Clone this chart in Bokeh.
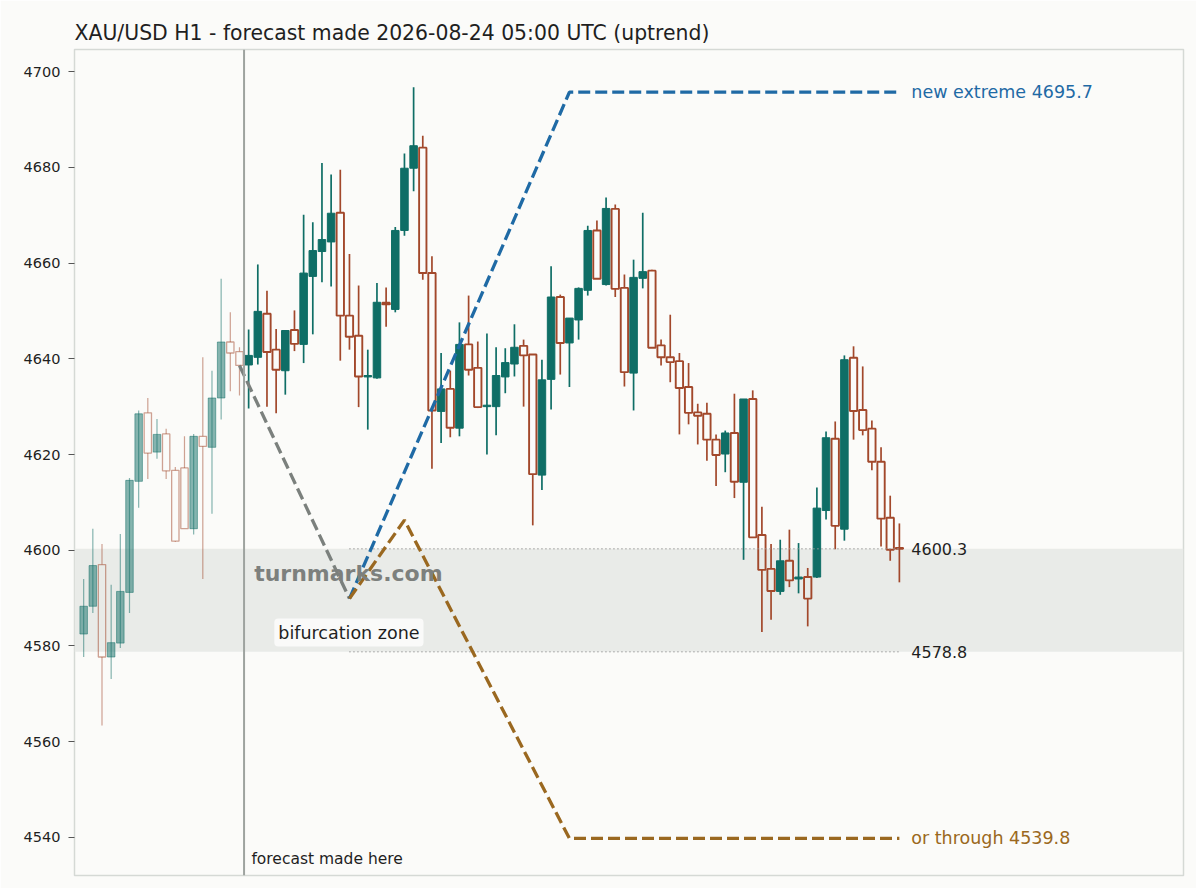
from bokeh.plotting import figure
from bokeh.models import ColumnDataSource, Range1d, FixedTicker, Span, BoxAnnotation, Label, Title
from bokeh.embed import file_html
from bokeh.resources import INLINE

# ---------------- data ----------------
title_text = "XAU/USD H1 - forecast made 2026-08-24 05:00 UTC (uptrend)"

opens = [4582.5, 4588.3, 4597.0, 4577.7, 4580.6, 4591.2, 4614.4, 4628.7, 4620.5, 4624.3,
         4616.7, 4617.2, 4604.5, 4623.8, 4621.5, 4631.8, 4643.5, 4641.5, 4638.7, 4640.3,
         4649.4, 4641.9, 4637.5, 4646.0, 4643.0, 4657.2, 4662.4, 4664.4, 4670.5, 4649.0,
         4644.8, 4636.2, 4636.0, 4651.7, 4650.3, 4666.8, 4679.8, 4684.1, 4657.9, 4629.0,
         4633.7, 4625.5, 4643.0, 4638.1, 4630.0, 4630.0, 4636.2, 4638.9, 4642.7, 4640.9,
         4615.7, 4635.7, 4652.9, 4643.3, 4648.1, 4654.3, 4666.8, 4655.5, 4671.3, 4654.8,
         4637.0, 4656.8, 4658.4, 4642.8, 4640.3, 4639.5, 4634.1, 4628.8, 4628.5, 4623.1,
         4620.1, 4624.5, 4614.2, 4631.6, 4603.2, 4596.1, 4591.4, 4597.8, 4594.0, 4594.4,
         4594.4, 4608.3, 4623.3, 4604.4, 4640.2, 4629.3, 4625.4, 4618.5, 4606.8, 4600.5]
highs = [4594.0, 4604.5, 4601.3, 4592.8, 4603.4, 4615.1, 4629.2, 4631.8, 4627.4, 4625.4,
         4617.4, 4623.8, 4624.3, 4640.3, 4637.5, 4656.7, 4649.7, 4642.4, 4646.1, 4659.7,
         4654.2, 4646.2, 4645.9, 4650.1, 4670.1, 4668.5, 4680.9, 4678.5, 4679.5, 4661.9,
         4655.3, 4641.9, 4655.8, 4654.9, 4667.5, 4682.9, 4696.7, 4686.6, 4661.4, 4641.2,
         4637.5, 4647.6, 4653.2, 4643.6, 4645.3, 4642.4, 4642.2, 4647.2, 4644.0, 4640.9,
         4639.8, 4659.3, 4653.4, 4648.5, 4654.9, 4667.8, 4668.9, 4673.7, 4672.2, 4657.6,
         4660.7, 4670.5, 4658.6, 4644.0, 4649.2, 4641.2, 4639.1, 4630.6, 4630.8, 4624.2,
         4625.0, 4632.7, 4631.6, 4633.4, 4609.1, 4601.3, 4602.2, 4604.3, 4601.5, 4596.3,
         4613.1, 4624.8, 4626.9, 4640.7, 4642.6, 4638.4, 4627.1, 4621.5, 4611.4, 4605.6]
lows = [4577.7, 4586.9, 4563.4, 4573.1, 4579.6, 4586.9, 4608.9, 4614.9, 4619.1, 4614.9,
        4601.7, 4604.5, 4603.3, 4594.0, 4607.6, 4627.3, 4633.2, 4632.3, 4629.6, 4638.8,
        4630.0, 4628.6, 4632.5, 4641.6, 4639.1, 4645.1, 4656.0, 4655.1, 4639.6, 4641.9,
        4629.9, 4625.2, 4635.8, 4646.7, 4649.7, 4665.7, 4675.0, 4656.5, 4617.0, 4622.4,
        4623.6, 4623.8, 4636.5, 4629.7, 4620.0, 4624.0, 4632.8, 4636.3, 4630.0, 4605.2,
        4612.6, 4629.4, 4636.7, 4634.1, 4644.0, 4653.2, 4656.7, 4655.3, 4652.9, 4634.2,
        4629.2, 4654.7, 4642.3, 4638.6, 4635.1, 4624.2, 4626.3, 4622.1, 4618.7, 4613.4,
        4616.3, 4610.9, 4598.0, 4602.7, 4582.9, 4585.5, 4590.7, 4592.3, 4591.0, 4584.1,
        4594.2, 4606.4, 4600.2, 4602.0, 4623.1, 4624.0, 4616.7, 4600.8, 4597.8, 4593.3]
closes = [4588.3, 4596.8, 4577.7, 4580.7, 4591.4, 4614.6, 4628.5, 4620.3, 4624.2, 4616.6,
          4601.9, 4604.5, 4623.8, 4621.7, 4631.8, 4643.5, 4641.2, 4638.6, 4640.7, 4649.9,
          4641.4, 4637.7, 4645.9, 4643.1, 4657.9, 4662.6, 4664.9, 4670.4, 4649.0, 4644.6,
          4636.3, 4636.5, 4651.8, 4651.4, 4666.8, 4679.8, 4684.5, 4657.9, 4629.2, 4633.7,
          4625.6, 4643.0, 4637.7, 4629.9, 4630.3, 4636.5, 4639.2, 4642.4, 4640.7, 4615.9,
          4635.6, 4652.9, 4643.3, 4648.5, 4654.7, 4666.8, 4656.7, 4671.4, 4654.6, 4637.2,
          4657.0, 4658.2, 4642.3, 4640.3, 4639.3, 4633.9, 4628.7, 4628.1, 4623.1, 4619.9,
          4624.5, 4614.3, 4631.6, 4602.7, 4595.9, 4591.5, 4597.8, 4593.7, 4594.4, 4589.9,
          4608.8, 4623.5, 4605.1, 4639.8, 4629.1, 4625.1, 4618.5, 4606.6, 4600.1, 4600.3]

history_count = 18          # candles before the forecast moment (drawn faded)
forecast_at = 17.5          # vertical marker position (between candles)

zone_high = 4600.3
zone_low = 4578.8
zone_start = 29
zone_end = 89

path_lead_x = [17, 29]
path_lead_y = [4638.6, 4589.9]
path_up_x = [29, 53, 89]
path_up_y = [4589.9, 4695.7, 4695.7]
path_down_x = [29, 35, 53, 89]
path_down_y = [4589.9, 4606.3, 4539.8, 4539.8]

y_ticks = [4540, 4560, 4580, 4600, 4620, 4640, 4660, 4680, 4700]

# ---------------- styles ----------------
BG = "#fbfbf9"
BAND = "#e9ebe8"
FRAME = "#d5d9d5"
UP = "#0f6e66"
DOWN = "#a2482b"
BLUE = "#1f6aa5"
ORANGE = "#9a6820"
GRAYLINE = "#7b807d"
VLINE = "#9ea39f"
TXT = "#1f1f1f"
FONT = "DejaVu Sans"

p = figure(width=1196, height=888, x_range=Range1d(-1, 120), y_range=Range1d(4532.06, 4704.6),
           output_backend="svg", toolbar_location=None,
           min_border_left=74, min_border_right=13, min_border_top=49, min_border_bottom=13,
           background_fill_color=BG, border_fill_color=BG)
p.title = Title(text=title_text, align="left", text_font=FONT, text_font_size="20.4px",
                text_font_style="normal", text_color=TXT, standoff=10)
p.outline_line_color = FRAME
p.outline_line_width = 1.5
p.xaxis.visible = False
p.xgrid.grid_line_color = None
p.ygrid.grid_line_color = None
p.yaxis.ticker = FixedTicker(ticks=y_ticks)
p.yaxis.axis_line_color = None
p.yaxis.major_tick_line_color = "#555555"
p.yaxis.major_tick_out = 6
p.yaxis.major_tick_in = 0
p.yaxis.minor_tick_line_color = None
p.yaxis.major_label_standoff = 8
p.yaxis.major_label_text_font = FONT
p.yaxis.major_label_text_font_size = "14.5px"
p.yaxis.major_label_text_color = TXT

band = BoxAnnotation(bottom=zone_low, top=zone_high, fill_color=BAND, fill_alpha=1.0,
                     line_color=None, level="underlay")
p.add_layout(band)

# watermark
p.add_layout(Label(x=18.6, y=4595.1, text="turnmarks.com", text_font=FONT, text_font_size="22px",
                   text_font_style="bold", text_color="#7d807d", text_baseline="middle",
                   text_align="left"))

# ---------------- candles ----------------
def group(idx):
    d = dict(x=[], top=[], bot=[], hi=[], lo=[])
    for i in idx:
        o, h, l, c = opens[i], highs[i], lows[i], closes[i]
        d["x"].append(i)
        d["top"].append(max(o, c))
        d["bot"].append(min(o, c))
        d["hi"].append(h)
        d["lo"].append(l)
    return ColumnDataSource(d)

n = len(opens)
for faded, rng in ((True, range(0, history_count)), (False, range(history_count, n))):
    alpha = 0.5 if faded else 1.0
    wick_w = 1.2 if faded else 1.7
    ups = [i for i in rng if closes[i] >= opens[i]]
    downs = [i for i in rng if closes[i] < opens[i]]
    su = group(ups)
    sd = group(downs)
    # up candles: full wick + filled body
    p.segment(x0="x", y0="lo", x1="x", y1="hi", source=su, line_color=UP, line_width=wick_w,
              line_alpha=alpha)
    p.vbar(x="x", top="top", bottom="bot", width=0.82, source=su, fill_color=UP, fill_alpha=alpha,
           line_color=UP, line_alpha=alpha, line_width=1)
    # down candles: wick outside the hollow body
    p.segment(x0="x", y0="top", x1="x", y1="hi", source=sd, line_color=DOWN, line_width=wick_w,
              line_alpha=alpha)
    p.segment(x0="x", y0="lo", x1="x", y1="bot", source=sd, line_color=DOWN, line_width=wick_w,
              line_alpha=alpha)
    p.vbar(x="x", top="top", bottom="bot", width=0.8, source=sd, fill_color=None,
           line_color=DOWN, line_alpha=alpha, line_width=1.9 if not faded else 1.3)

# forecast marker
p.add_layout(Span(location=forecast_at, dimension="height", line_color=VLINE, line_width=2))

# zone borders
p.line([zone_start, zone_end], [zone_high, zone_high], line_color="#9a9a9a", line_width=1.5,
       line_dash="1 3")
p.line([zone_start, zone_end], [zone_low, zone_low], line_color="#9a9a9a", line_width=1.5,
       line_dash="1 3")

# forecast paths
p.line(path_lead_x, path_lead_y, line_color=GRAYLINE, line_width=3.3, line_dash="12 5")
p.line(path_up_x, path_up_y, line_color=BLUE, line_width=3.3, line_dash="12 5")
p.line(path_down_x, path_down_y, line_color=ORANGE, line_width=3.3, line_dash="12 5")

# texts
p.add_layout(Label(x=20.8, y=4582.8, text="bifurcation zone", text_font=FONT,
                   text_font_size="17.5px", text_color=TXT, text_baseline="middle",
                   text_align="left", background_fill_color="white", background_fill_alpha=0.75,
                   padding=4, border_radius=4))
p.add_layout(Label(x=18.3, y=4535.6, text="forecast made here", text_font=FONT,
                   text_font_size="15.5px", text_color=TXT, text_baseline="middle",
                   text_align="left"))

lx = 90.3
p.add_layout(Label(x=lx, y=path_up_y[-1], text="new extreme %.1f" % path_up_y[-1], text_font=FONT,
                   text_font_size="17.5px", text_color=BLUE, text_baseline="middle"))
p.add_layout(Label(x=lx, y=path_down_y[-1], text="or through %.1f" % path_down_y[-1], text_font=FONT,
                   text_font_size="17.5px", text_color=ORANGE, text_baseline="middle"))
p.add_layout(Label(x=lx, y=zone_high, text="%.1f" % zone_high, text_font=FONT,
                   text_font_size="16px", text_color=TXT, text_baseline="middle"))
p.add_layout(Label(x=lx, y=zone_low, text="%.1f" % zone_low, text_font=FONT,
                   text_font_size="16px", text_color=TXT, text_baseline="middle"))

open("out.html", "w").write(file_html(p, INLINE))
